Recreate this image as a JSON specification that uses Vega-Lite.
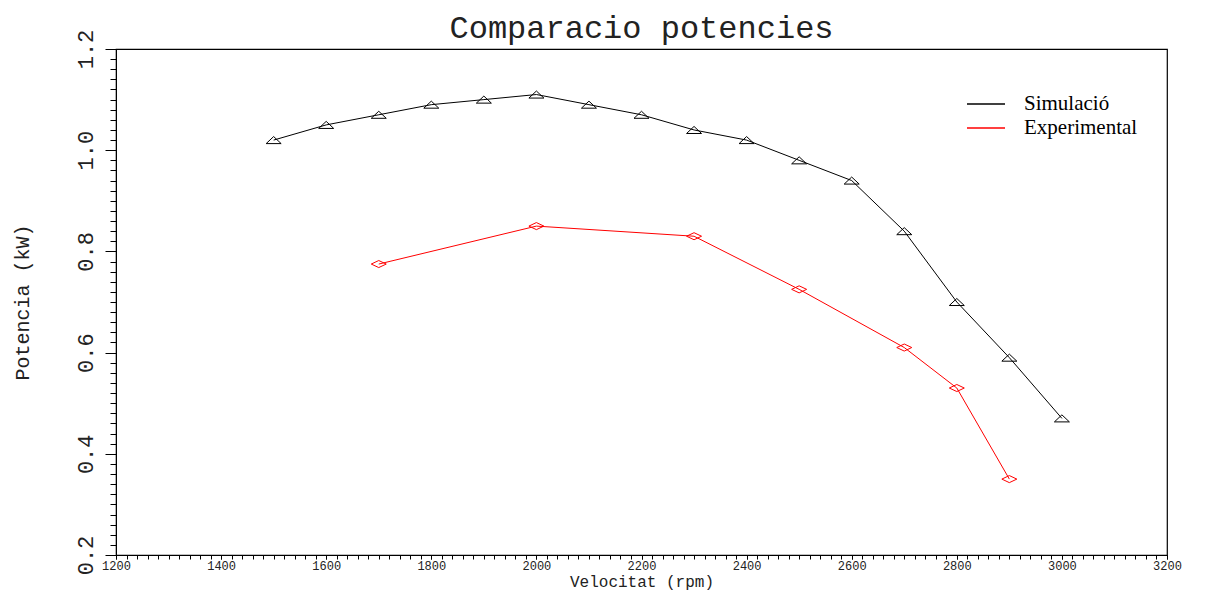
{
  "$schema": "https://vega.github.io/schema/vega-lite/v6.json",
  "width": 1051,
  "height": 506,
  "autosize": {"type": "none"},
  "padding": {"left": 116, "top": 49, "right": 38, "bottom": 38},
  "background": "white",
  "title": {
    "text": "Comparacio potencies",
    "font": "Liberation Mono",
    "fontSize": 32,
    "fontWeight": "normal",
    "color": "#222",
    "anchor": "middle",
    "baseline": "alphabetic",
    "offset": 12,
    "dy": 53
  },
  "config": {
    "view": {"stroke": "#000", "strokeWidth": 1.2},
    "axis": {"grid": false, "labelOverlap": false, "labelFlush": false, "domainColor": "#000", "tickColor": "#000", "labelColor": "#222", "titleColor": "#222", "labelFont": "Liberation Mono", "titleFont": "Liberation Mono", "titleFontWeight": "normal"}
  },
  "data": {
    "values": [
      {"v": 1500, "p": 1.02, "serie": "Simulació"},
      {"v": 1600, "p": 1.05, "serie": "Simulació"},
      {"v": 1700, "p": 1.07, "serie": "Simulació"},
      {"v": 1800, "p": 1.09, "serie": "Simulació"},
      {"v": 1900, "p": 1.10, "serie": "Simulació"},
      {"v": 2000, "p": 1.11, "serie": "Simulació"},
      {"v": 2100, "p": 1.09, "serie": "Simulació"},
      {"v": 2200, "p": 1.07, "serie": "Simulació"},
      {"v": 2300, "p": 1.04, "serie": "Simulació"},
      {"v": 2400, "p": 1.02, "serie": "Simulació"},
      {"v": 2500, "p": 0.98, "serie": "Simulació"},
      {"v": 2600, "p": 0.94, "serie": "Simulació"},
      {"v": 2700, "p": 0.84, "serie": "Simulació"},
      {"v": 2800, "p": 0.70, "serie": "Simulació"},
      {"v": 2900, "p": 0.59, "serie": "Simulació"},
      {"v": 3000, "p": 0.47, "serie": "Simulació"},
      {"v": 1700, "p": 0.775, "serie": "Experimental"},
      {"v": 2000, "p": 0.85, "serie": "Experimental"},
      {"v": 2300, "p": 0.83, "serie": "Experimental"},
      {"v": 2500, "p": 0.725, "serie": "Experimental"},
      {"v": 2700, "p": 0.61, "serie": "Experimental"},
      {"v": 2800, "p": 0.53, "serie": "Experimental"},
      {"v": 2900, "p": 0.35, "serie": "Experimental"}
    ]
  },
  "layer": [
    {
      "mark": {"type": "line", "strokeWidth": 1},
      "encoding": {
        "x": {
          "field": "v", "type": "quantitative",
          "scale": {"domain": [1200, 3200], "nice": false, "zero": false},
          "axis": {
            "orient": "bottom", "values": [1200, 1400, 1600, 1800, 2000, 2200, 2400, 2600, 2800, 3000, 3200],
            "format": "d", "tickSize": 4, "labelFontSize": 12, "labelPadding": 1,
            "title": "Velocitat (rpm)", "titleFontSize": 16, "titleY": 26, "titleBaseline": "middle"
          }
        },
        "y": {
          "field": "p", "type": "quantitative",
          "scale": {"domain": [0.2, 1.2], "nice": false, "zero": false},
          "axis": {
            "orient": "left", "values": [0.2, 0.4, 0.6, 0.8, 1.0, 1.2],
            "format": ".1f", "tickSize": 11, "labelFontSize": 22, "labelPadding": 8,
            "labelAngle": 270, "labelAlign": "center", "labelBaseline": "bottom",
            "title": "Potencia (kW)", "titleFontSize": 20, "titleAngle": 270,
            "titleX": -94, "titleY": 253, "titleAlign": "center", "titleBaseline": "middle"
          }
        },
        "color": {
          "field": "serie", "type": "nominal",
          "scale": {"domain": ["Simulació", "Experimental"], "range": ["#000000", "#ff0000"]},
          "legend": {
            "title": null, "orient": "none", "legendX": 850, "legendY": 43,
            "symbolType": "stroke", "symbolSize": 1444, "symbolStrokeWidth": 1.5,
            "labelFont": "Liberation Serif", "labelFontSize": 21, "labelColor": "#000",
            "labelOffset": 18, "rowPadding": 0, "clipHeight": 24, "padding": 0
          }
        }
      }
    },
    {
      "transform": [{"filter": "datum.serie === 'Simulació'"}],
      "mark": {"type": "point", "shape": "M0,-0.47L1,0.47L-1,0.47Z", "filled": false, "size": 225, "strokeWidth": 1, "opacity": 1},
      "encoding": {
        "x": {
          "field": "v", "type": "quantitative",
          "axis": {"orient": "bottom", "tickCount": 100, "labels": false, "domain": false, "title": null, "tickSize": 4}
        },
        "y": {
          "field": "p", "type": "quantitative",
          "axis": {"orient": "left", "tickCount": 50, "labels": false, "domain": false, "title": null, "tickSize": 6}
        },
        "color": {"field": "serie", "type": "nominal", "legend": null}
      }
    },
    {
      "transform": [{"filter": "datum.serie === 'Experimental'"}],
      "mark": {"type": "point", "shape": "M-1,0L0,-0.47L1,0L0,0.47Z", "filled": false, "size": 225, "strokeWidth": 1, "opacity": 1},
      "encoding": {
        "x": {"field": "v", "type": "quantitative", "axis": null},
        "y": {"field": "p", "type": "quantitative", "axis": null},
        "color": {"field": "serie", "type": "nominal", "legend": null}
      }
    }
  ],
  "resolve": {"axis": {"x": "independent", "y": "independent"}}
}
